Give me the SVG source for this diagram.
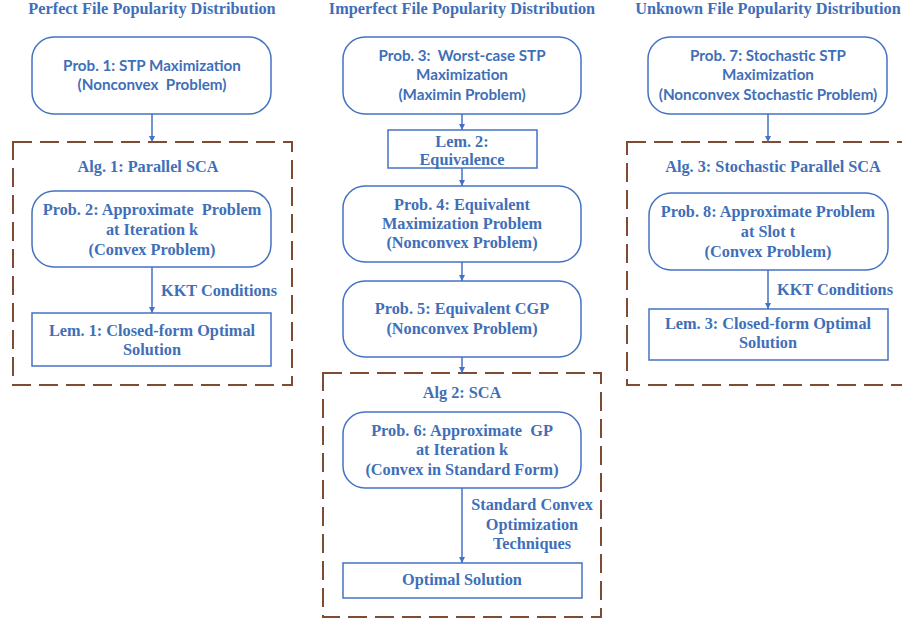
<svg xmlns="http://www.w3.org/2000/svg" width="902" height="622" viewBox="0 0 902 622">
<defs>
<style>
text{white-space:pre}
.t{font-family:"Liberation Serif","Times New Roman",serif;font-weight:bold;font-size:16.3px;fill:#3F6FB8;text-anchor:middle}
.h{font-size:16.3px}
.c{font-family:Lato,"Liberation Sans",sans-serif;font-weight:bold;font-size:15.2px;fill:#3F6FB8;text-anchor:middle}
.box{fill:#fff;stroke:#4472C4;stroke-width:1.5}
.dash{fill:none;stroke:#7E4B33;stroke-width:2;stroke-dasharray:19 8}
.ar{stroke:#4472C4;stroke-width:1.5;fill:none;marker-end:url(#ah)}
</style>
<marker id="ah" viewBox="0 0 10 10" refX="10" refY="5" markerWidth="6" markerHeight="6" markerUnits="userSpaceOnUse" orient="auto">
<path d="M0,0 L10,5 L0,10 z" fill="#4472C4"/>
</marker>
</defs>
<rect width="902" height="622" fill="#fff"/>

<g id="titles">
<text class="t h" x="152" y="14">Perfect File Popularity Distribution</text>
<text class="t h" x="462" y="14">Imperfect File Popularity Distribution</text>
<text class="t h" x="768" y="14">Unknown File Popularity Distribution</text>
</g>

<g id="alg1">
<rect class="dash" x="13" y="142" width="279" height="243"/>
<text class="t" x="148" y="172">Alg. 1: Parallel SCA</text>
</g>
<g id="alg2">
<rect class="dash" x="323" y="373" width="278" height="244"/>
<text class="t" x="462" y="398">Alg 2: SCA</text>
</g>
<g id="alg3">
<rect class="dash" x="627" y="142" width="290" height="243"/>
<text class="t" x="773" y="172">Alg. 3: Stochastic Parallel SCA</text>
</g>

<g id="connectors">
<line class="ar" x1="152" y1="114" x2="152" y2="142"/>
<line class="ar" x1="152" y1="267" x2="152" y2="313"/>
<line class="ar" x1="462" y1="114" x2="462" y2="130"/>
<line class="ar" x1="462" y1="168" x2="462" y2="186"/>
<line class="ar" x1="462" y1="262" x2="462" y2="281"/>
<line class="ar" x1="462" y1="357" x2="462" y2="373"/>
<line class="ar" x1="462" y1="488" x2="462" y2="563"/>
<line class="ar" x1="768" y1="114" x2="768" y2="142"/>
<line class="ar" x1="768" y1="270" x2="768" y2="309"/>
<text class="t" x="219" y="296">KKT Conditions</text>
<text class="t" x="835" y="295">KKT Conditions</text>
<text class="t" x="532" y="510">Standard Convex</text>
<text class="t" x="532" y="530">Optimization</text>
<text class="t" x="532" y="549">Techniques</text>
</g>

<g id="prob1">
<rect class="box" x="32" y="37" width="239" height="77" rx="22"/>
<text class="c" x="152" y="71">Prob. 1: STP Maximization</text>
<text class="c" x="152" y="90">(Nonconvex  Problem)</text>
</g>
<g id="prob2">
<rect class="box" x="32" y="191" width="239" height="76" rx="22"/>
<text class="t" x="152" y="215">Prob. 2: Approximate  Problem</text>
<text class="t" x="152" y="235">at Iteration k</text>
<text class="t" x="152" y="255">(Convex Problem)</text>
</g>
<g id="lem1">
<rect class="box" x="32" y="313" width="239" height="53"/>
<text class="t" x="152" y="336">Lem. 1: Closed-form Optimal</text>
<text class="t" x="152" y="355">Solution</text>
</g>

<g id="prob3">
<rect class="box" x="343" y="37" width="238" height="77" rx="22"/>
<text class="c" x="462" y="61">Prob. 3:  Worst-case STP</text>
<text class="c" x="462" y="80">Maximization</text>
<text class="c" x="462" y="100">(Maximin Problem)</text>
</g>
<g id="lem2">
<rect class="box" x="388" y="130" width="149" height="38"/>
<text class="t" x="462" y="147">Lem. 2:</text>
<text class="t" x="462" y="165">Equivalence</text>
</g>
<g id="prob4">
<rect class="box" x="343" y="186" width="238" height="76" rx="22"/>
<text class="t" x="462" y="210">Prob. 4: Equivalent</text>
<text class="t" x="462" y="229">Maximization Problem</text>
<text class="t" x="462" y="248">(Nonconvex Problem)</text>
</g>
<g id="prob5">
<rect class="box" x="343" y="281" width="238" height="76" rx="22"/>
<text class="t" x="462" y="314">Prob. 5: Equivalent CGP</text>
<text class="t" x="462" y="334">(Nonconvex Problem)</text>
</g>
<g id="prob6">
<rect class="box" x="343" y="412" width="238" height="76" rx="22"/>
<text class="t" x="462" y="436">Prob. 6: Approximate  GP</text>
<text class="t" x="462" y="455">at Iteration k</text>
<text class="t" x="462" y="475">(Convex in Standard Form)</text>
</g>
<g id="optimal">
<rect class="box" x="343" y="563" width="239" height="35"/>
<text class="t" x="462" y="585">Optimal Solution</text>
</g>

<g id="prob7">
<rect class="box" x="648" y="37" width="239" height="77" rx="22"/>
<text class="c" x="768" y="61">Prob. 7: Stochastic STP</text>
<text class="c" x="768" y="80">Maximization</text>
<text class="c" x="768" y="100">(Nonconvex Stochastic Problem)</text>
</g>
<g id="prob8">
<rect class="box" x="649" y="193" width="239" height="77" rx="22"/>
<text class="t" x="768" y="217">Prob. 8: Approximate Problem</text>
<text class="t" x="768" y="237">at Slot t</text>
<text class="t" x="768" y="257">(Convex Problem)</text>
</g>
<g id="lem3">
<rect class="box" x="649" y="309" width="239" height="51"/>
<text class="t" x="768" y="329">Lem. 3: Closed-form Optimal</text>
<text class="t" x="768" y="348">Solution</text>
</g>
</svg>
